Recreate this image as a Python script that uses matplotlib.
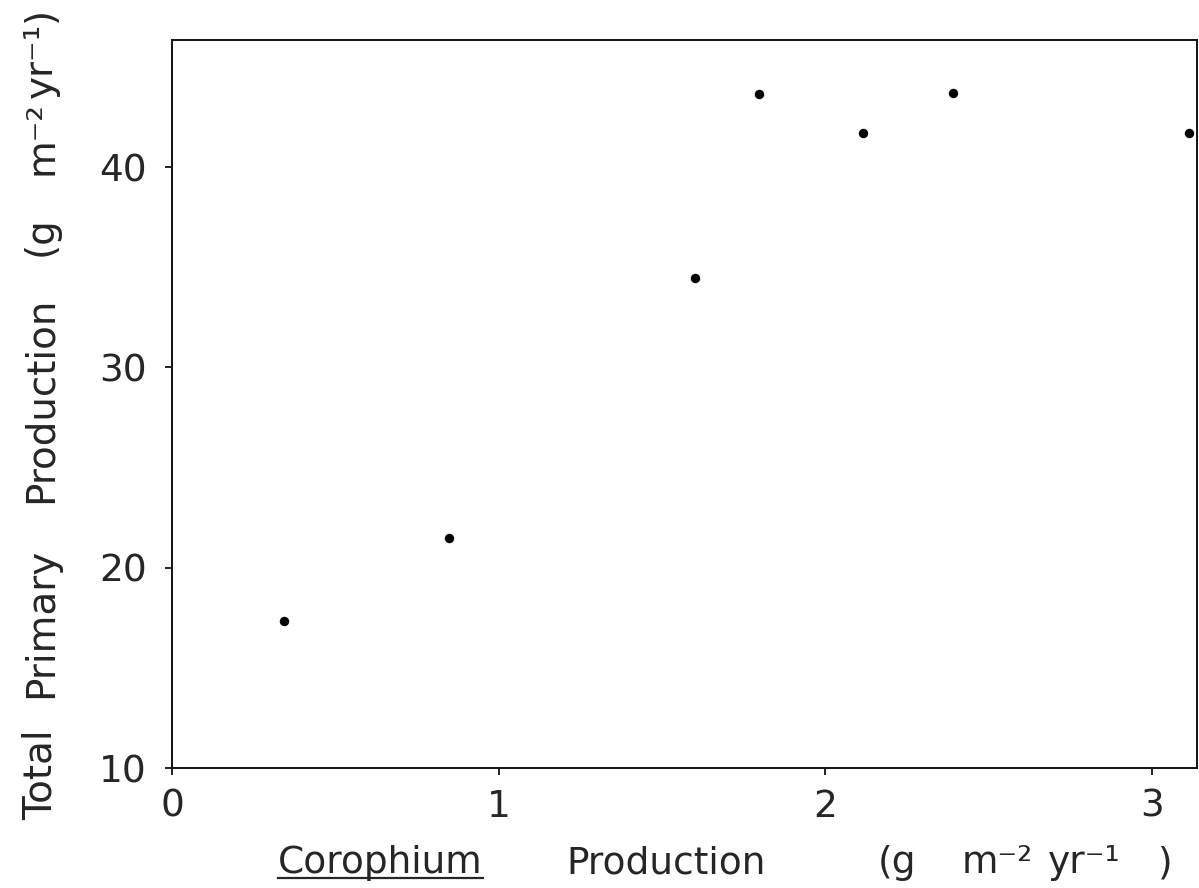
import matplotlib
matplotlib.use("Agg")
import matplotlib.pyplot as plt
from matplotlib.lines import Line2D

# Data
corophium_production = [0.343, 0.848, 1.601, 1.797, 2.114, 2.391, 3.111]
total_primary_production = [17.34, 21.48, 34.45, 43.63, 41.69, 43.71, 41.72]
x_ticks = [0, 1, 2, 3]
y_ticks = [10, 20, 30, 40]
xlabel_parts = ['Corophium', 'Production', '(g', 'm\u207b\u00b2', 'yr\u207b\u00b9', ')']
ylabel_parts = ['Total', 'Primary', 'Production', '(g', 'm\u207b\u00b2', 'yr\u207b\u00b9', ')']

plt.rcParams['font.family'] = ['DejaVu Sans']

W, H = 1199, 888
fig = plt.figure(figsize=(W / 100, H / 100), dpi=100)
left, right, top, bottom = 172, 1197, 40, 768
ax = fig.add_axes([left / W, 1 - bottom / H, (right - left) / W, (bottom - top) / H])

ax.plot(corophium_production, total_primary_production, 'o', color='black',
        markersize=6.8, markeredgewidth=0, clip_on=False)

ax.set_xlim(0, 3.137)
ax.set_ylim(10, 46.35)
ax.set_xticks(x_ticks)
ax.set_yticks(y_ticks)
ax.set_xticklabels([str(v) for v in x_ticks])
ax.set_yticklabels([str(v) for v in y_ticks])
tcol = '#262626'
for s in ax.spines.values():
    s.set_linewidth(1.4)
    s.set_color('#111111')
ax.tick_params(direction='out', length=5, width=1.3, colors='#111111',
               labelsize=27, labelcolor=tcol)
ax.tick_params(axis='x', pad=10)
ax.tick_params(axis='y', pad=13)

fs = 27
# x label pieces (left edge px)
x_lefts = [278, 566, 878, 962, 1048, 1158]
xtexts = []
for s_, xl in zip(xlabel_parts, x_lefts):
    xtexts.append(fig.text(xl / W, 1 - 873 / H, s_, fontsize=fs, color=tcol,
                           ha='left', va='baseline'))

# y label pieces (center px along y)
y_centers = [775, 623, 400, 236, 138, 60, 14]
for s_, yc in zip(ylabel_parts, y_centers):
    fig.text(52 / W, 1 - yc / H, s_, fontsize=fs + 1, color=tcol, rotation=90,
             rotation_mode='anchor', ha='center', va='baseline')

fig.canvas.draw()
r = fig.canvas.get_renderer()
bb = xtexts[0].get_window_extent(renderer=r)
uy = 1 - 878 / H
fig.add_artist(Line2D([bb.x0 / W, bb.x1 / W], [uy, uy], transform=fig.transFigure,
                      color=tcol, linewidth=1.6))

fig.savefig('out.png', dpi=100, facecolor='white')
